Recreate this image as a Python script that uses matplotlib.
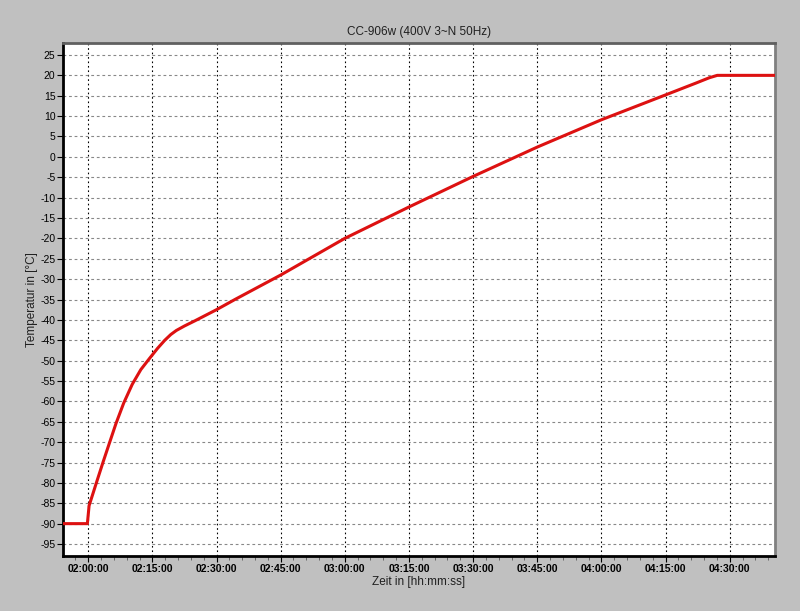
import matplotlib
matplotlib.use("Agg")
import matplotlib.pyplot as plt
from matplotlib.ticker import MultipleLocator, FixedLocator

# time in minutes since midnight
time_min = [114.1, 119.8, 120.2, 121.9, 123.5, 124.9, 126.5, 128.3, 130.3, 132.3, 134.3,
            136.2, 137.9, 139.3, 140.6, 142.5, 145.0, 150.0, 154.3, 165.0, 180.0,
            195.0, 210.0, 225.0, 240.0, 255.0, 262.1, 265.2, 267.1, 280.6]
temp_c = [-90.0, -90.0, -85.6, -80.0, -74.8, -70.4, -65.4, -60.4, -55.8, -52.2, -49.5,
          -47.0, -45.0, -43.6, -42.6, -41.5, -40.2, -37.5, -35.0, -29.0, -20.0,
          -12.3, -4.8, 2.4, 9.1, 15.2, 18.1, 19.4, 20.0, 20.0]

xtick_pos = [120, 135, 150, 165, 180, 195, 210, 225, 240, 255, 270]
xtick_labels = ["02:00:00", "02:15:00", "02:30:00", "02:45:00", "03:00:00", "03:15:00",
                "03:30:00", "03:45:00", "04:00:00", "04:15:00", "04:30:00"]
yticks = list(range(-95, 30, 5))

title = "CC-906w (400V 3~N 50Hz)"
xlabel = "Zeit in [hh:mm:ss]"
ylabel = "Temperatur in [°C]"

plt.rcParams['font.family'] = ['Liberation Sans', 'DejaVu Sans']

fig = plt.figure(figsize=(8, 6.11), dpi=100, facecolor="#c0c0c0")
ax = fig.add_axes([63/800, 1-556/611, (775-63)/800, (556-43)/611])
ax.set_facecolor("white")

ax.plot(time_min, temp_c, color="#dd1111", lw=2.2, zorder=3, solid_joinstyle="round")

ax.set_xlim(114.1, 280.6)
ax.set_ylim(-97.94, 27.94)

ax.xaxis.set_major_locator(FixedLocator(xtick_pos))
ax.set_xticks(xtick_pos)
ax.set_xticklabels(xtick_labels, fontsize=7.5, fontweight="bold")
ax.xaxis.set_minor_locator(MultipleLocator(3))
ax.set_yticks(yticks)
ax.set_yticklabels([str(v) for v in yticks], fontsize=7.5)

ax.tick_params(axis="x", which="major", length=4, width=0.8, direction="out", pad=1.5)
ax.tick_params(axis="x", which="minor", length=3, width=0.6, direction="out", color="#555555")
ax.tick_params(axis="y", which="major", length=4, width=0.8, direction="out", pad=1.5)

ax.grid(True, axis="x", which="major", color="black", linestyle=(0, (1.5, 2.5)), lw=0.8)
ax.grid(True, axis="y", which="major", color="#888888", linestyle=(0, (2.5, 2.5)), lw=0.8)

for s in ["left", "bottom"]:
    ax.spines[s].set_color("black")
    ax.spines[s].set_linewidth(2)
ax.spines["top"].set_color("#606060")
ax.spines["top"].set_linewidth(2)
ax.spines["right"].set_color("#808080")
ax.spines["right"].set_linewidth(2)

fig.text((63+775)/2/800, 1-32/611, title, ha="center", va="center", fontsize=8.5, color="#202020")
fig.text((63+775)/2/800, 1-582/611, xlabel, ha="center", va="center", fontsize=8.5, color="#202020")
fig.text(32/800, 1-(43+556)/2/611, ylabel, ha="center", va="center", rotation=90,
         fontsize=8.5, color="#202020")

fig.savefig("out.png", dpi=100, facecolor=fig.get_facecolor())
